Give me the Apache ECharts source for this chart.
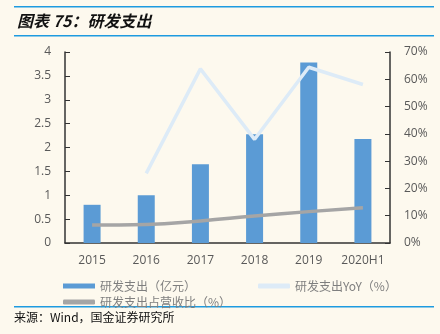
<!DOCTYPE html>
<html><head><meta charset="utf-8">
<script src="https://cdn.jsdelivr.net/npm/echarts@6/dist/echarts.min.js"></script>
<style>html,body{margin:0;padding:0;background:#FDF9EE;}#c{width:440px;height:334px;}</style>
</head><body><div id="c"></div>
<script>
const categories = ['2015','2016','2017','2018','2019','2020H1'];
const rdSpend = [0.80, 1.00, 1.65, 2.28, 3.78, 2.18];
const rdYoY = [null, 25.5, 63.8, 38.0, 64.4, 58.1];
const rdRatio = [6.6, 6.8, 8.1, 9.9, 11.5, 12.9];

const chart = echarts.init(document.getElementById('c'));
const labelFont = {color:'#595959', fontSize:12, fontFamily:'Open Sans'};
const legendText = {color:'#7f7f7f', fontSize:12, fontFamily:'Noto Sans CJK SC'};
chart.setOption({
  backgroundColor:'#FDF9EE',
  animation:false,
  grid:{left:65, right:50, top:52, bottom:91},
  title:{text:'图表 75：研发支出', left:12, top:8, textStyle:{fontSize:16, fontWeight:'bold', fontStyle:'italic', color:'#111', fontFamily:'Noto Sans CJK SC'}},
  legend:[{
    left:58, top:275, itemWidth:32, itemHeight:5, textStyle:legendText,
    data:[{name:'研发支出（亿元）', icon:'rect'}]
  },{
    left:253, top:275, itemWidth:32, itemHeight:5, textStyle:legendText,
    data:[{name:'研发支出YoY（%）', icon:'roundRect'}]
  },{
    left:58, top:291, itemWidth:32, itemHeight:5, textStyle:legendText,
    data:[{name:'研发支出占营收比（%）', icon:'roundRect'}]
  }],
  xAxis:{type:'category', data:categories,
    axisLine:{lineStyle:{color:'#333', width:1.5}},
    axisTick:{inside:true, length:5, lineStyle:{color:'#333'}},
    axisLabel:Object.assign({margin:12, interval:0}, labelFont)},
  yAxis:[{type:'value', min:0, max:4, interval:0.5,
    axisLine:{show:true, lineStyle:{color:'#333', width:1.5}},
    axisTick:{show:true, inside:true, length:5, lineStyle:{color:'#333'}},
    splitLine:{show:false},
    axisLabel:Object.assign({margin:14}, labelFont)},
   {type:'value', min:0, max:70, interval:10, position:'right',
    axisLine:{show:true, lineStyle:{color:'#333', width:1.5}},
    axisTick:{show:true, inside:true, length:5, lineStyle:{color:'#333'}},
    splitLine:{show:false},
    axisLabel:Object.assign({margin:14, formatter:'{value}%'}, labelFont)}],
  series:[
    {name:'研发支出（亿元）', type:'bar', data:rdSpend, barWidth:17, itemStyle:{color:'#5B9BD5'}},
    {name:'研发支出YoY（%）', type:'line', yAxisIndex:1, data:rdYoY, symbol:'none', lineStyle:{color:'#DDEBF7', width:3.5}, itemStyle:{color:'#DDEBF7'}},
    {name:'研发支出占营收比（%）', type:'line', yAxisIndex:1, data:rdRatio, symbol:'none', smooth:true, lineStyle:{color:'#A5A5A5', width:3.5}, itemStyle:{color:'#A5A5A5'}}
  ],
  graphic:[
    {type:'rect', shape:{x:14, y:6, width:420, height:1.5}, style:{fill:'#1E9BE0'}},
    {type:'rect', shape:{x:14, y:35, width:420, height:1.5}, style:{fill:'#1E9BE0'}},
    {type:'rect', shape:{x:14, y:306, width:420, height:1.5}, style:{fill:'#1E9BE0'}},
    {type:'text', left:14, top:311, style:{text:'来源：Wind，国金证券研究所', fill:'#111', fontSize:12, fontFamily:'Noto Sans CJK SC'}}
  ]
});
</script></body></html>
